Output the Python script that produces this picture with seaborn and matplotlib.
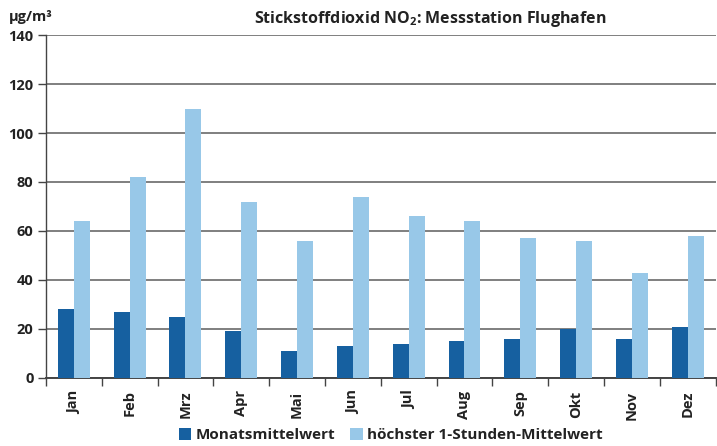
import matplotlib
matplotlib.use("Agg")
import matplotlib.pyplot as plt
import seaborn as sns
import pandas as pd
import numpy as np

months = ["Jan", "Feb", "Mrz", "Apr", "Mai", "Jun", "Jul", "Aug", "Sep", "Okt", "Nov", "Dez"]
monatsmittel = [28, 27, 25, 19, 11, 13, 14, 15, 16, 20, 16, 21]
hoechster = [64, 82, 110, 72, 56, 74, 66, 64, 57, 56, 43, 58]
series_names = ["Monatsmittelwert", "höchster 1-Stunden-Mittelwert"]
yticks = [0, 20, 40, 60, 80, 100, 120, 140]

df = pd.DataFrame({
    "Monat": months * 2,
    "Wert": monatsmittel + hoechster,
    "Serie": [series_names[0]] * len(months) + [series_names[1]] * len(months),
})

sns.set_theme(style="white")
plt.rcParams["font.family"] = ["Open Sans", "DejaVu Sans"]
plt.rcParams["font.weight"] = "bold"
plt.rcParams["mathtext.fontset"] = "custom"
plt.rcParams["mathtext.bf"] = "Open Sans:bold"

fig = plt.figure(figsize=(7.17, 4.46), dpi=100)
ax = fig.add_axes([0.064, 0.1525, 0.934, 0.769])

palette = {series_names[0]: "#1660a0", series_names[1]: "#98c8e8"}
sns.barplot(data=df, x="Monat", y="Wert", hue="Serie", palette=palette,
            width=0.57, gap=0, ax=ax, saturation=1, legend=True, zorder=3,
            linewidth=0, edgecolor="none")

ax.set_ylim(0, 140)
ax.set_xlim(-0.5, 11.5)
ax.set_yticks(yticks)
ax.set_yticklabels([str(v) for v in yticks], fontsize=10.5, fontweight="bold", color="#222222")
ax.yaxis.grid(True, color="#7f7f7f", linewidth=1.4, zorder=0)
ax.set_axisbelow(True)
ax.set_xlabel("")
ax.set_ylabel("")

ax.set_xticks(range(len(months)))
ax.set_xticklabels(months, rotation=90, fontsize=10.5, fontweight="bold", color="#222222")
ax.set_xticks(np.arange(-0.5, 12, 1), minor=True)
ax.tick_params(axis="x", which="major", length=0, pad=9)
ax.tick_params(axis="x", which="minor", length=6, width=1.0, color="#444444", bottom=True)
ax.tick_params(axis="y", which="major", length=6, width=1.0, color="#444444", left=True, pad=3)

for s in ["top", "right"]:
    ax.spines[s].set_visible(False)
ax.spines["left"].set_color("#444444")
ax.spines["left"].set_linewidth(1.0)
ax.spines["bottom"].set_color("#444444")
ax.spines["bottom"].set_linewidth(1.4)

leg = ax.legend(loc="center", bbox_to_anchor=(0.515, -0.166), ncol=2, frameon=False,
                handlelength=0.8, handleheight=0.8, handletextpad=0.3, columnspacing=1.0,
                prop={"size": 11, "weight": "bold"})
for t in leg.get_texts():
    t.set_color("#222222")

fig.text(0.60, 0.958, "Stickstoffdioxid NO$_\\mathbf{2}$: Messstation Flughafen",
         ha="center", va="center", fontsize=11.5, fontweight="bold", color="#222222")
fig.text(0.012, 0.963, "µg/m³", ha="left", va="center", fontsize=10.5,
         fontweight="bold", color="#222222")

fig.savefig("out.png", dpi=100)
